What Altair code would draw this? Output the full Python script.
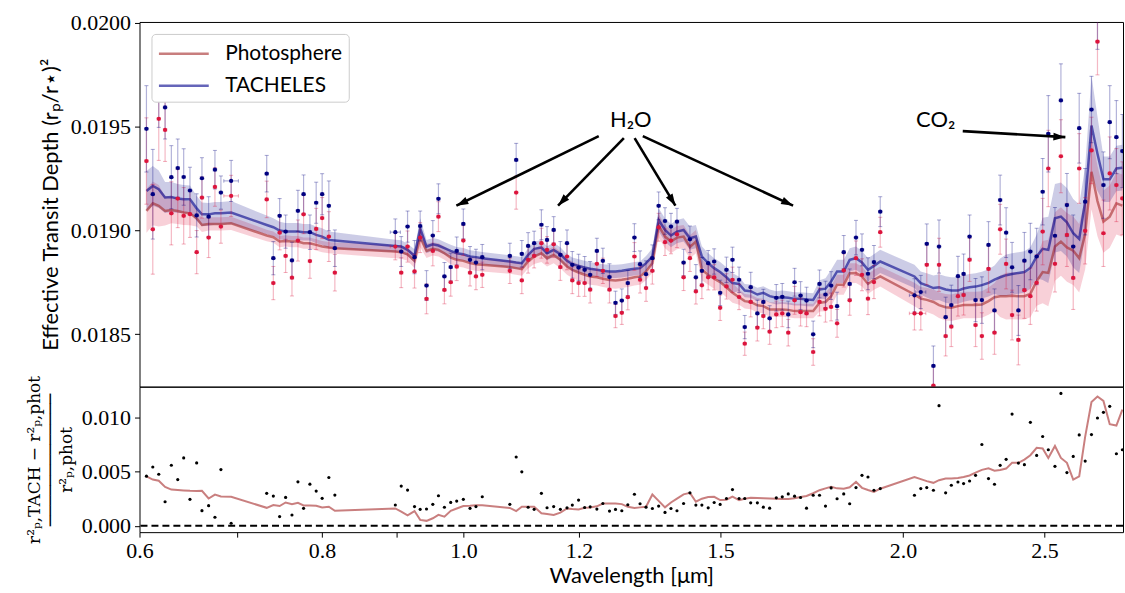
import sys
import altair as alt
import pandas as pd

# ---------------- data ----------------
wavelength = [
    0.6066, 0.6127, 0.6185, 0.6247, 0.6309, 0.6373, 0.6433, 0.6497, 0.6566, 0.6621,
    0.6691, 0.6758, 0.6822, 0.6933, 0.7333, 0.7410, 0.7484, 0.7555, 0.7631, 0.7703,
    0.7772, 0.7850, 0.7928, 0.8003, 0.8088, 0.8165,
    0.8982, 0.9066, 0.9157, 0.9258, 0.9341, 0.9435, 0.9529, 0.9614, 0.9705, 0.9802,
    0.9895, 0.9999, 1.0105, 1.0200, 1.0302, 1.0760, 1.0868, 1.0965, 1.1075, 1.1180,
    1.1309, 1.1410, 1.1530, 1.1652, 1.1775, 1.1874, 1.1992, 1.2107, 1.2213, 1.2343,
    1.2460, 1.2591, 1.2711, 1.2838, 1.2960, 1.3096, 1.3213, 1.3338, 1.3472, 1.3606,
    1.3743, 1.3873, 1.4005, 1.4152, 1.4294, 1.4429, 1.4566, 1.4712, 1.4851, 1.4992,
    1.5142, 1.5286,
    1.5446, 1.5585, 1.5732, 1.5898, 1.6049, 1.6209, 1.6380, 1.6535, 1.6692, 1.6859,
    1.7019, 1.7180, 1.7361, 1.7535, 1.7701, 1.7859, 1.8028, 1.8218, 1.8390, 1.8574,
    1.8750, 1.8928, 1.9107, 1.9298, 2.0368, 2.0572, 2.0767, 2.0986,
    2.1172, 2.1395, 2.1587, 2.1814, 2.2009, 2.2218, 2.2428, 2.2653, 2.2891, 2.3108,
    2.3315, 2.3536, 2.3758, 2.3996, 2.4224, 2.4453, 2.4697, 2.4932, 2.5155, 2.5420,
    2.5660, 2.5904, 2.6163, 2.6411, 2.6661, 2.6927, 2.7183, 2.7440, 2.7714, 2.8006,
    2.8272]

# observed transit depths, ppm
phot_obs_ppm = [
    19334, 19005, 19537, 19484, 19082, 19153, 19070, 19078, 18895, 19158,
    18965, 19209, 19018, 19166, 19149, 18746, 18989, 18877, 18772, 18951,
    19077, 18852, 19007, 19059, 18970, 18796,
    18922, 18796, 18922, 18802, 18965, 18670, 18901, 19066, 18713, 18750,
    18825, 18951, 18796, 18778, 18786, 18805, 19182, 18759, 18858, 18877,
    18938, 18906, 18933, 18823, 18874, 18759, 18746, 18746, 18714, 18839,
    18805, 18714, 18587, 18603, 18678, 18874, 18762, 18722, 18805, 19015,
    18943, 18951, 18981, 18774, 18866, 18706, 18735, 18774, 18774, 18627,
    18730, 18762,
    18679, 18454, 18655, 18531, 18587, 18512, 18595, 18600, 18507, 18663,
    18606, 18600, 18414, 18655, 18622, 18631, 18552, 18807, 18663, 18866,
    18786, 18671, 18751, 18991, 18600, 18600, 18834, 18252,
    18834, 18491, 18536, 18683, 18688, 18858, 18544, 18491, 18814, 18507,
    19005, 18838, 18592, 18472, 18712, 18683, 18747, 18994, 19298, 18839,
    19357, 18978, 18771, 19298, 18998, 19385, 19909, 18986, 19274, 19218,
    19154]

tach_obs_ppm = [
    19489, 19174, 19696, 19592, 19256, 19300, 19257, 19192, 19072, 19251,
    19066, 19292, 19182, 19238, 19273, 18866, 19070, 18994, 18855, 19094,
    19174, 18991, 19133, 19174, 19118, 18914,
    18991, 18898, 19018, 18871, 19021, 18734, 18975, 19152, 18778, 18823,
    18901, 19031, 18858, 18845, 18871, 18877, 19339, 18887, 18925, 18938,
    19027, 18954, 19002, 18882, 18938, 18834, 18821, 18810, 18786, 18901,
    18853, 18775, 18651, 18662, 18746, 18965, 18837, 18789, 18866, 19118,
    19045, 19018, 19042, 18845, 18957, 18774, 18805, 18842, 18850, 18699,
    18810, 18858,
    18762, 18534, 18726, 18600, 18655, 18576, 18675, 18680, 18595, 18750,
    18686, 18662, 18499, 18742, 18691, 18734, 18635, 18895, 18742, 18965,
    18906, 18791, 18847, 19090, 18687, 18703, 18935, 18347,
    18922, 18582, 18640, 18779, 18790, 18970, 18664, 18664, 18930, 18614,
    19146, 18989, 18822, 18614, 18854, 18898, 18874, 19186, 19465, 18974,
    19626, 19122, 18922, 19492, 19138, 19582, 20032, 19218, 19521, 19449,
    19382]

obs_err_ppm = [
    208, 216, 200, 152, 152, 140, 136, 112, 104, 99,
    96, 93, 80, 99, 88, 80, 83, 80, 88, 99,
    93, 83, 99, 99, 120, 88,
    64, 72, 75, 80, 72, 72, 72, 72, 67, 67,
    67, 72, 64, 64, 61, 61, 80, 64, 64, 58,
    72, 64, 64, 64, 64, 64, 64, 64, 64, 61,
    61, 64, 56, 56, 61, 67, 64, 64, 64, 67,
    64, 64, 64, 64, 64, 61, 64, 61, 61, 61,
    61, 61,
    61, 56, 72, 64, 61, 61, 64, 64, 64, 67,
    67, 64, 64, 67, 64, 67, 67, 80, 72, 83,
    77, 77, 80, 72, 80, 80, 96, 96,
    128, 96, 96, 96, 96, 104, 104, 112, 112, 104,
    120, 120, 120, 120, 136, 136, 136, 160, 184, 136,
    176, 152, 152, 168, 160, 160, 160, 160, 176, 176,
    176]

# model spectra, ppm
phot_model_ppm = [
    19094, 19130, 19118, 19093, 19098, 19093, 19086, 19082, 19058, 19026,
    19031, 19031, 19031, 19034, 18975, 18967, 18946, 18949, 18946, 18946,
    18938, 18938, 18930, 18922, 18917, 18914,
    18898, 18895, 18885, 18853, 18967, 18901, 18911, 18906, 18890, 18869,
    18858, 18853, 18842, 18837, 18834, 18823, 18818, 18813, 18850, 18874,
    18890, 18866, 18882, 18858, 18826, 18810, 18797, 18786, 18778, 18774,
    18767, 18761, 18759, 18762, 18767, 18774, 18778, 18802, 18842, 19023,
    18970, 18946, 18965, 18970, 18920, 18946, 18810, 18786, 18767, 18751,
    18726, 18699,
    18678, 18659, 18655, 18639, 18635, 18619, 18619, 18619, 18617, 18611,
    18611, 18611, 18611, 18651, 18655, 18683, 18738, 18738, 18793, 18794,
    18778, 18742, 18762, 18778, 18691, 18671, 18665, 18655,
    18640, 18630, 18627, 18635, 18640, 18640, 18640, 18643, 18659, 18678,
    18683, 18683, 18685, 18683, 18683, 18694, 18755, 18799, 18795, 18922,
    18946, 18918, 18902, 18866, 18983, 19282, 19141, 19042, 19066, 19130,
    19119]

tach_model_ppm = [
    19190, 19214, 19198, 19158, 19161, 19153, 19150, 19150, 19106, 19077,
    19077, 19082, 19082, 19086, 19026, 19015, 18999, 18994, 18994, 18994,
    18991, 18991, 18978, 18970, 18954, 18951,
    18925, 18922, 18906, 18877, 19010, 18922, 18933, 18927, 18914, 18901,
    18890, 18885, 18874, 18871, 18866, 18850, 18845, 18842, 18882, 18911,
    18917, 18890, 18906, 18885, 18853, 18837, 18829, 18821, 18815, 18810,
    18805, 18802, 18802, 18805, 18810, 18815, 18818, 18842, 18874, 19050,
    19002, 18975, 18994, 19002, 18962, 18970, 18874, 18842, 18818, 18799,
    18774, 18746,
    18742, 18710, 18707, 18691, 18699, 18683, 18675, 18678, 18675, 18670,
    18670, 18667, 18665, 18715, 18719, 18754, 18802, 18802, 18858, 18866,
    18845, 18810, 18829, 18850, 18778, 18746, 18735, 18722,
    18726, 18715, 18710, 18710, 18720, 18726, 18729, 18736, 18747, 18763,
    18774, 18784, 18790, 18795, 18799, 18819, 18874, 18911, 18906, 19058,
    19066, 19039, 18986, 18959, 19138, 19505, 19369, 19246, 19246, 19298,
    19302]

# half-width of the model uncertainty bands, ppm
phot_band_ppm = [
    105, 105, 100, 70, 64, 62, 60, 58, 40, 34,
    32, 32, 32, 32, 28, 27, 27, 27, 27, 27,
    27, 27, 27, 27, 27, 27,
    32, 32, 32, 34, 48, 34, 32, 32, 32, 32,
    32, 32, 32, 32, 32, 32, 32, 32, 34, 36,
    42, 40, 40, 40, 40, 40, 40, 40, 40, 40,
    40, 40, 40, 40, 40, 40, 40, 42, 45,
    56, 56, 56, 56, 56, 56, 56,
    50, 48, 48, 48, 48, 48,
    36, 35, 35, 35, 35, 35, 35, 35, 35, 35, 35, 35, 35,
    42, 45, 48, 48, 48, 48, 48, 48, 48, 48, 48,
    56, 56, 58, 60,
    62, 64, 64, 64, 64, 64, 64, 64, 66, 68,
    100, 113, 113, 113, 113, 113, 118,
    150, 160, 165, 165, 165, 165, 165, 170,
    180, 170, 150, 150, 150, 150]

tach_band_ppm = [
    96, 96, 90, 75, 72, 70, 68, 66, 60, 57,
    55, 55, 55, 55, 45, 43, 43, 42, 42, 42,
    40, 40, 40, 40, 40, 40,
    30, 30, 30, 32, 48, 32, 30, 30, 30, 30,
    30, 30, 30, 30, 30, 30, 30, 30, 32, 34,
    36, 34, 34, 34, 32, 32, 32, 32, 32, 32,
    32, 32, 32, 32, 32, 32, 32, 34, 40,
    56, 56, 56, 56, 56, 56, 56,
    50, 48, 48, 48, 48, 48,
    34, 32, 32, 32, 32, 32, 32, 32, 32, 32, 32, 32, 32,
    45, 50, 56, 56, 56, 56, 56, 56, 56, 56, 56,
    56, 56, 58, 60,
    62, 64, 64, 64, 64, 64, 64, 64, 66, 68,
    90, 100, 100, 100, 100, 100, 105,
    150, 160, 165, 165, 165, 165, 165, 170,
    240, 180, 110, 110, 110, 110]

# relative difference panel
resid_obs = [
    0.00457, 0.00542, 0.00475, 0.00222, 0.00558, 0.00426, 0.00625, 0.00244, 0.00579, 0.00140,
    0.00186, 0.00079, 0.00518, 0.00024, 0.00299, 0.00274, 0.00085, 0.00262, 0.00100, 0.00405,
    0.00161, 0.00384, 0.00320, 0.00253, 0.00445, 0.00283,
    0.00192, 0.00366, 0.00329, 0.00177, 0.00152, 0.00155, 0.00198, 0.00277, 0.00171, 0.00216,
    0.00228, 0.00244, 0.00161, 0.00177, 0.00268, 0.00198, 0.00634, 0.00497, 0.00171, 0.00152,
    0.00299, 0.00167, 0.00177, 0.00152, 0.00166, 0.00191, 0.00237, 0.00169, 0.00175, 0.00154,
    0.00206, 0.00136, 0.00151, 0.00139, 0.00194, 0.00291, 0.00203, 0.00172, 0.00160, 0.00182,
    0.00124, 0.00160, 0.00139, 0.00206, 0.00304, 0.00191, 0.00191, 0.00166, 0.00215, 0.00197,
    0.00252, 0.00334,
    0.00252, 0.00252, 0.00212, 0.00212, 0.00172, 0.00163, 0.00258, 0.00267, 0.00294, 0.00273,
    0.00261, 0.00163, 0.00282, 0.00282, 0.00182, 0.00349, 0.00249, 0.00294, 0.00203, 0.00352,
    0.00465, 0.00450, 0.00328, 0.00343, 0.00282, 0.00343, 0.00352, 0.00328,
    0.01106, 0.00304, 0.00374, 0.00404, 0.00389, 0.00413, 0.00465, 0.00749, 0.00435, 0.00383,
    0.00557, 0.00612, 0.01029, 0.00578, 0.00563, 0.00953, 0.00648, 0.00822, 0.00700, 0.00548,
    0.01219, 0.00490, 0.00639, 0.00837, 0.00596, 0.00840, 0.00993, 0.01045, 0.01100, 0.00664,
    0.00700]

resid_model = [
    0.00455, 0.00426, 0.00415, 0.00359, 0.00334, 0.00330, 0.00326, 0.00322, 0.00320, 0.00322,
    0.00252, 0.00288, 0.00270, 0.00267, 0.00166, 0.00191, 0.00182, 0.00215, 0.00200, 0.00212,
    0.00188, 0.00188, 0.00185, 0.00169, 0.00176, 0.00139,
    0.00160, 0.00130, 0.00096, 0.00136, 0.00055, 0.00046, 0.00070, 0.00101, 0.00085, 0.00139,
    0.00160, 0.00182, 0.00185, 0.00189, 0.00190, 0.00165, 0.00136, 0.00176, 0.00176, 0.00176,
    0.00116, 0.00110, 0.00101, 0.00122, 0.00160, 0.00155, 0.00151, 0.00167, 0.00169, 0.00180,
    0.00205, 0.00206, 0.00206, 0.00200, 0.00175, 0.00165, 0.00170, 0.00176, 0.00289, 0.00230,
    0.00170, 0.00215, 0.00250, 0.00290, 0.00304, 0.00222, 0.00250, 0.00265, 0.00267, 0.00237,
    0.00241, 0.00270,
    0.00237, 0.00250, 0.00258, 0.00256, 0.00254, 0.00252, 0.00250, 0.00248, 0.00247, 0.00255,
    0.00265, 0.00275, 0.00300, 0.00328, 0.00345, 0.00359, 0.00345, 0.00342, 0.00355, 0.00405,
    0.00350, 0.00330, 0.00313, 0.00342, 0.00450, 0.00430, 0.00412, 0.00396,
    0.00420, 0.00435, 0.00435, 0.00440, 0.00450, 0.00464, 0.00490, 0.00515, 0.00530, 0.00508,
    0.00515, 0.00527, 0.00580, 0.00580, 0.00610, 0.00650, 0.00719, 0.00712, 0.00625, 0.00735,
    0.00625, 0.00580, 0.00425, 0.00455, 0.00822, 0.01140, 0.01190, 0.01150, 0.00935, 0.00923,
    0.01070]

# spectral bin half-widths (relative), a few wider bins
bin_half_rel_default = 0.0027
bin_half_rel_wide = {13: 0.0115, 26: 0.008, 102: 0.008, 103: 0.008}

zero_level = [0.0]

# annotations
ann_text = ["H₂O", "CO₂"]
ann_text_x = [1.302, 2.106]
ann_text_y = [0.019531, 0.019531]
arrow_x0 = [1.238, 1.288, 1.310, 1.327, 2.198]
arrow_y0 = [0.019454, 0.019444, 0.019444, 0.019454, 0.019478]
arrow_x1 = [0.989, 1.161, 1.397, 1.682, 2.584]
arrow_y1 = [0.019119, 0.019119, 0.019119, 0.019119, 0.019449]
arrow_angle = [244, 224, 149, 115, 93]

# ---------------- tables ----------------
n = len(wavelength)
series_arrays = {
    "phot_obs_ppm": phot_obs_ppm, "tach_obs_ppm": tach_obs_ppm, "obs_err_ppm": obs_err_ppm,
    "phot_model_ppm": phot_model_ppm, "tach_model_ppm": tach_model_ppm,
    "phot_band_ppm": phot_band_ppm, "tach_band_ppm": tach_band_ppm,
    "resid_obs": resid_obs, "resid_model": resid_model,
}
for k, v in series_arrays.items():
    if len(v) != n:
        print("length mismatch", k, len(v), n, file=sys.stderr)

ppm = 1e-6
rel = [bin_half_rel_wide.get(i, bin_half_rel_default) for i in range(n)]
df = pd.DataFrame({
    "wl": wavelength,
    "phot": [v * ppm for v in phot_obs_ppm],
    "tach": [v * ppm for v in tach_obs_ppm],
    "err": [v * ppm for v in obs_err_ppm],
    "pm": [v * ppm for v in phot_model_ppm],
    "tm": [v * ppm for v in tach_model_ppm],
    "pb": [v * ppm for v in phot_band_ppm],
    "tb": [v * ppm for v in tach_band_ppm],
    "rdot": resid_obs,
    "rline": resid_model,
})
df["wl_lo"] = [w * (1 - r) for w, r in zip(wavelength, rel)]
df["wl_hi"] = [w * (1 + r) for w, r in zip(wavelength, rel)]
df["p_lo"] = df["phot"] - df["err"]
df["p_hi"] = df["phot"] + df["err"]
df["t_lo"] = df["tach"] - df["err"]
df["t_hi"] = df["tach"] + df["err"]
df["pb_lo"] = df["pm"] - df["pb"]
df["pb_hi"] = df["pm"] + df["pb"]
df["tb_lo"] = df["tm"] - df["tb"]
df["tb_hi"] = df["tm"] + df["tb"]

lines_df = pd.concat([
    pd.DataFrame({"wl": wavelength, "y": df["pm"], "series": "Photosphere"}),
    pd.DataFrame({"wl": wavelength, "y": df["tm"], "series": "TACHELES"}),
], ignore_index=True)

ann_df = pd.DataFrame({"x": ann_text_x, "y": ann_text_y, "t": ann_text})
arr_df = pd.DataFrame({"x0": arrow_x0, "y0": arrow_y0, "x1": arrow_x1,
                       "y1": arrow_y1, "ang": arrow_angle})
zero_df = pd.DataFrame({"y": zero_level})

# ---------------- styling ----------------
CRIMSON = "#dc143c"
NAVY = "#000080"
BROWN = "#a52a2a"
DARKBLUE = "#00008b"
SERIF = "Liberation Serif"
SANS = "Lato"

W = 987
H_TOP = 366
H_BOT = 146

xs = alt.Scale(type="log", domain=[0.6, 2.830], nice=False)
ys_top = alt.Scale(domain=[0.018247, 0.0200038], nice=False, zero=False)
ys_bot = alt.Scale(domain=[-0.00058, 0.01281], nice=False, zero=False)


def XT(f):
    return alt.X(f, type="quantitative", scale=xs, axis=None)


def YT(f, axis=alt.Undefined):
    return alt.Y(f, type="quantitative", scale=ys_top, axis=axis)


y_axis_top = alt.Axis(
    values=[0.0185, 0.0190, 0.0195, 0.0200], format=".4f",
    title="Effective Transit Depth (rₚ/r⋆)²",
    labelFont=SERIF, labelFontSize=22, labelPadding=4, labelColor="black",
    titleFont=SANS, titleFontSize=22, titleFontWeight="normal", titlePadding=8,
    titleColor="black", tickSize=5, tickColor="black", domain=False, grid=False)

base = alt.Chart(df)

band_p = base.mark_area(color=CRIMSON, opacity=0.2, clip=True).encode(
    x=XT("wl"), y=YT("pb_lo", y_axis_top), y2="pb_hi")
band_t = base.mark_area(color=NAVY, opacity=0.2, clip=True).encode(
    x=XT("wl"), y=YT("tb_lo"), y2="tb_hi")

model_lines = alt.Chart(lines_df).mark_line(strokeWidth=2.5, opacity=0.6, clip=True).encode(
    x=XT("wl"), y=YT("y"),
    color=alt.Color("series:N",
                    scale=alt.Scale(domain=["Photosphere", "TACHELES"], range=[BROWN, DARKBLUE]),
                    legend=alt.Legend(
                        title=None, orient="none", legendX=12, legendY=12,
                        symbolType="M-1,0L3,0", symbolSize=625, symbolStrokeWidth=2.5,
                        symbolOpacity=0.6, labelFont=SANS, labelFontSize=21,
                        labelColor="black", labelOffset=40, rowPadding=8, padding=6,
                        fillColor="white", strokeColor="#cccccc", cornerRadius=4)))


def err_layers(col, lo, hi, color):
    v = base.mark_rule(color=color, opacity=0.3, strokeWidth=1.2, clip=True).encode(
        x=XT("wl"), y=YT(lo), y2=hi)
    h = base.mark_rule(color=color, opacity=0.3, strokeWidth=1.2, clip=True).encode(
        x=XT("wl_lo"), x2="wl_hi", y=YT(col))
    cap_v = base.transform_fold([lo, hi], as_=["k", "v"]).mark_point(
        shape="M-1,0L1,0", size=16, filled=False, color=color, opacity=0.35,
        strokeWidth=1, clip=True).encode(x=XT("wl"), y=YT("v"))
    cap_h = base.transform_fold(["wl_lo", "wl_hi"], as_=["k", "v"]).mark_point(
        shape="M0,-1L0,1", size=12, filled=False, color=color, opacity=0.35,
        strokeWidth=1, clip=True).encode(x=XT("v"), y=YT(col))
    return [v, h, cap_v, cap_h]


pts_p = base.mark_point(filled=True, size=18, color=CRIMSON, opacity=1, clip=True).encode(
    x=XT("wl"), y=YT("phot"))
pts_t = base.mark_point(filled=True, size=18, color=NAVY, opacity=1, clip=True).encode(
    x=XT("wl"), y=YT("tach"))

arrows = alt.Chart(arr_df).mark_rule(color="black", strokeWidth=2.6).encode(
    x=XT("x0"), y=YT("y0"), x2="x1", y2="y1")
heads = alt.Chart(arr_df).mark_point(
    shape="M0,0L-0.65,2L0.65,2Z", size=144, filled=True, color="black", opacity=1).encode(
    x=XT("x1"), y=YT("y1"), angle=alt.Angle("ang:Q", scale=None))
labels = alt.Chart(ann_df).mark_text(font=SANS, fontSize=22, align="center",
                                     baseline="middle", color="black").encode(
    x=XT("x"), y=YT("y"), text="t:N")

top = alt.layer(
    band_p, band_t, model_lines,
    *err_layers("phot", "p_lo", "p_hi", CRIMSON),
    *err_layers("tach", "t_lo", "t_hi", NAVY),
    pts_p, pts_t, arrows, heads, labels,
).properties(width=W, height=H_TOP)

# ---------------- bottom panel ----------------
x_axis_bot = alt.Axis(
    values=[0.6, 0.7, 0.8, 0.9, 1.0, 1.2, 1.5, 2.0, 2.5],
    labelExpr="(abs(datum.value-0.7)<0.001 || abs(datum.value-0.9)<0.001) ? '' : format(datum.value, '.1f')",
    title="Wavelength [μm]", labelFont=SERIF, labelFontSize=22, labelPadding=3,
    labelColor="black", titleColor="black",
    titleFont=SANS, titleFontSize=22, titleFontWeight="normal", titlePadding=5,
    tickSize=5, tickColor="black", domain=False, grid=False, labelFlush=False)

y_axis_bot = alt.Axis(
    values=[0.0, 0.005, 0.010], format=".3f",
    title=["r²ₚ,TACH − r²ₚ,phot", "─────────────", "r²ₚ,phot"],
    labelFont=SERIF, labelFontSize=22, labelPadding=4, labelColor="black",
    titleFont="DejaVu Serif", titleFontSize=17, titleFontWeight="normal", titleLineHeight=16,
    titleColor="black", titlePadding=6, tickSize=5, tickColor="black",
    domain=False, grid=False)

bb = alt.Chart(df)
zero_line = alt.Chart(zero_df).mark_rule(color="black", strokeWidth=2, strokeDash=[7, 4]).encode(
    y=alt.Y("y:Q", scale=ys_bot, axis=y_axis_bot))
resid_line = bb.mark_line(color=BROWN, opacity=0.6, strokeWidth=2, clip=True).encode(
    x=alt.X("wl:Q", scale=xs, axis=x_axis_bot), y=alt.Y("rline:Q", scale=ys_bot))
resid_dots = bb.mark_circle(size=10, color="black", opacity=1, clip=True).encode(
    x=alt.X("wl:Q", scale=xs), y=alt.Y("rdot:Q", scale=ys_bot))

bottom = alt.layer(zero_line, resid_line, resid_dots).properties(width=W, height=H_BOT)

chart = alt.vconcat(top, bottom, spacing=0, bounds="flush").properties(
    padding={"left": 25, "top": 10, "right": 0, "bottom": 0},
    background="white",
).configure_view(stroke="black", strokeWidth=1)

chart.save("out.html", embed_options={"renderer": "svg", "actions": False})
